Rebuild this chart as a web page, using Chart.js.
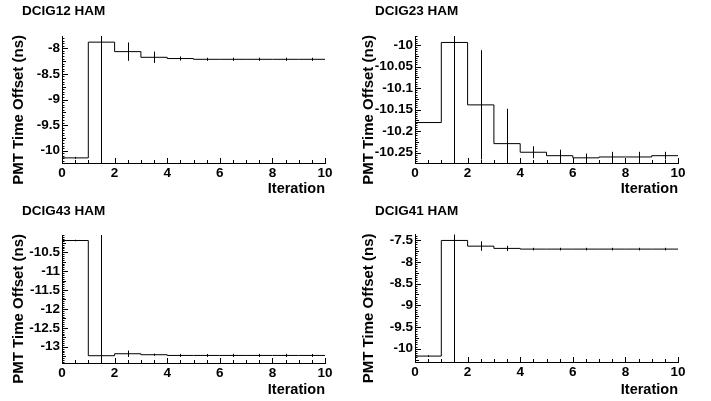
<!DOCTYPE html>
<html>
<head>
<meta charset="utf-8">
<title>PMT time offset vs iteration</title>
<script src="https://cdn.jsdelivr.net/npm/chart.js@4.4.0/dist/chart.umd.min.js"></script>
<style>
  html, body { margin: 0; padding: 0; background: #fff; }
  #grid { position: relative; width: 711px; height: 401px; }
  #grid canvas { position: absolute; }
</style>
</head>
<body>
<div id="grid">
  <canvas id="dcig12" width="355" height="200" style="left:0;top:0"></canvas>
  <canvas id="dcig23" width="356" height="200" style="left:355px;top:0"></canvas>
  <canvas id="dcig43" width="355" height="201" style="left:0;top:200px"></canvas>
  <canvas id="dcig41" width="356" height="201" style="left:355px;top:200px"></canvas>
</div>
<script>
// bin edges of the iteration histograms
const binEdges = [0, 1, 2, 3, 4, 5, 6, 7, 8, 9, 10];
const xTicks = [0, 2, 4, 6, 8, 10];

const dcig12Offset = [-10.14, -7.88, -8.065, -8.176, -8.20, -8.215, -8.215, -8.215, -8.215, -8.215];
const dcig12Error  = [0.02, 3.0, 0.18, 0.11, 0.04, 0.03, 0.03, 0.03, 0.03, 0.03];
const dcig12Ticks  = [-10, -9.5, -9, -8.5, -8];

const dcig23Offset = [-10.18, -9.994, -10.139, -10.229, -10.249, -10.257, -10.262, -10.26, -10.26, -10.257];
const dcig23Error  = [0.001, 0.4, 0.127, 0.081, 0.014, 0.014, 0.01, 0.012, 0.012, 0.009];
const dcig23Ticks  = [-10.25, -10.2, -10.15, -10.1, -10.05, -10];

const dcig43Offset = [-10.19, -13.237, -13.185, -13.211, -13.23, -13.23, -13.23, -13.23, -13.23, -13.23];
const dcig43Error  = [0.02, 4.0, 0.084, 0.03, 0.04, 0.04, 0.04, 0.04, 0.04, 0.04];
const dcig43Ticks  = [-13, -12.5, -12, -11.5, -11, -10.5];

const dcig41Offset = [-10.169, -7.507, -7.638, -7.69, -7.706, -7.706, -7.706, -7.706, -7.706, -7.706];
const dcig41Error  = [0.02, 3.0, 0.107, 0.06, 0.03, 0.03, 0.03, 0.03, 0.03, 0.03];
const dcig41Ticks  = [-10, -9.5, -9, -8.5, -8, -7.5];

const FONT = "'Liberation Sans', Arial, Helvetica, sans-serif";

// ROOT-like inward tick marks on both axes
const rootTicks = {
  id: 'rootTicks',
  afterDraw(chart) {
    const {ctx, chartArea: a, scales: {x, y}} = chart;
    ctx.save();
    ctx.strokeStyle = '#000';
    ctx.lineWidth = 1;
    ctx.beginPath();
    const yt = y.ticks.map(t => t.value);
    const step = yt[1] - yt[0];
    for (let k = -10; k <= yt.length * 10; k++) {
      const v = yt[0] + k * step / 10;
      if (v < y.min || v > y.max) continue;
      const len = k % 10 === 0 ? 6 : (k % 5 === 0 ? 4 : 2.5);
      const py = Math.round(y.getPixelForValue(v)) + 0.5;
      ctx.moveTo(a.left, py);
      ctx.lineTo(a.left + len, py);
    }
    for (let k = 0; k <= 20; k++) {
      const px = Math.round(x.getPixelForValue(k * 0.5)) + 0.5;
      const len = k % 4 === 0 ? 5 : 3;
      ctx.moveTo(px, a.bottom);
      ctx.lineTo(px, a.bottom - len);
    }
    ctx.stroke();

    // vertical axis title, right-aligned to the top of the frame
    const o = chart.options.plugins.rootTicks;
    ctx.fillStyle = '#000';
    ctx.font = 'bold 15px ' + FONT;
    ctx.translate(o.titleX, a.top - 1);
    ctx.rotate(-Math.PI / 2);
    ctx.textAlign = 'right';
    ctx.textBaseline = 'middle';
    ctx.fillText('PMT Time Offset (ns)', 0, 0);
    ctx.restore();
  }
};

// vertical error bars at the bin centres
const binErrors = {
  id: 'binErrors',
  afterDatasetsDraw(chart) {
    const {ctx, chartArea: a, scales: {x, y}} = chart;
    const ds = chart.data.datasets[0];
    ctx.save();
    ctx.beginPath();
    ctx.rect(a.left, a.top, a.right - a.left, a.bottom - a.top);
    ctx.clip();
    ctx.strokeStyle = '#000';
    ctx.lineWidth = 1;
    ctx.beginPath();
    ds.binValues.forEach((v, i) => {
      const px = Math.round(x.getPixelForValue((binEdges[i] + binEdges[i + 1]) / 2)) + 0.5;
      ctx.moveTo(px, y.getPixelForValue(v + ds.binErrors[i]));
      ctx.lineTo(px, y.getPixelForValue(v - ds.binErrors[i]));
    });
    ctx.stroke();
    ctx.restore();
  }
};

function makePanel(id, name, values, errors, yTicks, yMin, yMax, frame) {
  const steps = values.map((v, i) => ({x: binEdges[i], y: v}));
  steps.push({x: binEdges[binEdges.length - 1], y: values[values.length - 1]});

  return new Chart(document.getElementById(id), {
    type: 'line',
    data: {
      datasets: [{
        data: steps,
        binValues: values,
        binErrors: errors,
        stepped: 'before',
        borderColor: '#000',
        borderWidth: 1,
        pointRadius: 0,
        fill: false,
      }],
    },
    options: {
      responsive: false,
      animation: false,
      layout: {
        padding: {left: frame.padLeft, right: frame.padRight, top: 0, bottom: 0}
      },
      plugins: {
        legend: {display: false},
        tooltip: {enabled: false},
        title: {
          display: true,
          text: name,
          align: 'start',
          color: '#000',
          font: {family: FONT, size: 13.5, weight: 'bold'},
          padding: {top: 3, bottom: frame.top - 3 - 16.2},
        },
        rootTicks: {titleX: frame.titleX},
      },
      scales: {
        x: {
          type: 'linear',
          min: 0,
          max: 10,
          afterBuildTicks: s => { s.ticks = xTicks.map(v => ({value: v})); },
          afterFit: s => { s.height = frame.bottomH; },
          grid: {display: false, drawTicks: false},
          border: {display: true, color: '#000', width: 1},
          ticks: {
            color: '#000',
            padding: 2,
            autoSkip: false,
            maxRotation: 0,
            font: {family: FONT, size: 13.5, weight: 'bold'},
          },
          title: {
            display: true,
            text: 'Iteration',
            align: 'end',
            color: '#000',
            font: {family: FONT, size: 14.5, weight: 'bold'},
            padding: {top: 0, bottom: 2},
          },
        },
        y: {
          type: 'linear',
          min: yMin,
          max: yMax,
          afterBuildTicks: s => { s.ticks = yTicks.map(v => ({value: v})); },
          afterFit: s => { s.width = frame.axisW; },
          grid: {display: false, drawTicks: false},
          border: {display: true, color: '#000', width: 1},
          ticks: {
            color: '#000',
            padding: 2,
            autoSkip: false,
            font: {family: FONT, size: 13.5, weight: 'bold'},
            callback: v => String(+v.toFixed(3)),
          },
        },
      },
    },
    plugins: [binErrors, rootTicks],
  });
}

const leftFrame  = {padLeft: 22, padRight: 30, axisW: 40, top: 36, bottomH: 37, titleX: 19};
const rightFrame = {padLeft: 20, padRight: 33, axisW: 40, top: 36, bottomH: 37, titleX: 14};

makePanel('dcig12', 'DCIG12 HAM', dcig12Offset, dcig12Error, dcig12Ticks, -10.24, -7.76, leftFrame);
makePanel('dcig23', 'DCIG23 HAM', dcig23Offset, dcig23Error, dcig23Ticks, -10.274, -9.979, rightFrame);
makePanel('dcig43', 'DCIG43 HAM', dcig43Offset, dcig43Error, dcig43Ticks, -13.43, -10.044, {...leftFrame, top: 35, bottomH: 38});
makePanel('dcig41', 'DCIG41 HAM', dcig41Offset, dcig41Error, dcig41Ticks, -10.305, -7.37, {...rightFrame, top: 34.5, bottomH: 39});
</script>
</body>
</html>
